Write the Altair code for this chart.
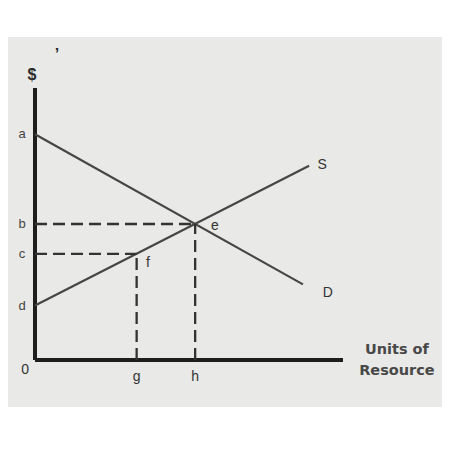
import altair as alt
import pandas as pd

# Curve end points (data units: quantity 0-100, price 0-100)
demand_x = [0, 87]
demand_y = [83, 27.8]
supply_x = [0, 89]
supply_y = [20, 71.4]

# Price levels and quantities
price_names = ["a", "b", "c", "d"]
price_vals = [83, 50, 39, 20]
qty_names = ["g", "h"]
qty_vals = [33, 52]

# Dashed guide segments
dash_x = [0, 0, 33, 52]
dash_x2 = [52, 33, 33, 52]
dash_y = [50, 39, 0, 0]
dash_y2 = [50, 39, 39, 50]

# Axis segments
axis_x = [0, 0]
axis_x2 = [0, 100]
axis_y = [0, 0]
axis_y2 = [100, 0]

# Annotation labels
ann_text = ["e", "f", "S", "D", "0"]
ann_x = [58.4, 36.7, 93.2, 95.1, -3.2]
ann_y = [49.3, 35.7, 71.7, 24.6, -3.7]

unit_text = ["Units of", "Resource"]
unit_x = [117.5, 117.5]
unit_y = [3.7, -4]

sym_text = ["$", "’"]
sym_x = [-1, 7.1]
sym_y = [104.8, 112]

W, H = 308, 272
xs = alt.Scale(domain=[0, 100], nice=False, zero=False)
ys = alt.Scale(domain=[0, 100], nice=False, zero=False)

ink = "#333333"
font = "Liberation Sans"

def X():
    return alt.X("x:Q", scale=xs, axis=None)

def Y():
    return alt.Y("y:Q", scale=ys, axis=None)

# photographed grey page behind the figure, and a transparent strip above it
bg_df = pd.DataFrame({
    "x": [-27 / W * 100, -27 / W * 100], "x2": [407 / W * 100, 407 / W * 100],
    "y": [(H + 51) / H * 100, (H + 80) / H * 100],
    "y2": [(H - 319) / H * 100, (H + 51) / H * 100],
    "o": [1, 0],
})
bg = alt.Chart(bg_df).mark_rect(color="#e9e9e7").encode(
    x=X(), x2="x2:Q", y=Y(), y2="y2:Q",
    opacity=alt.Opacity("o:Q", scale=None, legend=None),
)

curves = pd.DataFrame({
    "x": demand_x + supply_x,
    "y": demand_y + supply_y,
    "c": ["D", "D", "S", "S"],
})
lines = alt.Chart(curves).mark_line(color="#464646", strokeWidth=2.2).encode(
    x=X(), y=Y(), detail="c:N",
)

dashes = alt.Chart(pd.DataFrame({"x": dash_x, "x2": dash_x2, "y": dash_y, "y2": dash_y2})).mark_rule(
    color="#333333", strokeWidth=2.3, strokeDash=[12, 6]
).encode(x=X(), x2="x2:Q", y=Y(), y2="y2:Q")

axes = alt.Chart(pd.DataFrame({"x": axis_x, "x2": axis_x2, "y": axis_y, "y2": axis_y2})).mark_rule(
    color="#1e1e1e", strokeWidth=4
).encode(x=X(), x2="x2:Q", y=Y(), y2="y2:Q")

plab = alt.Chart(pd.DataFrame({"t": price_names, "y": price_vals, "x": [0, 0, 0, 0]})).mark_text(
    font=font, fontSize=13, color="#444444", align="center", baseline="middle", dx=-13
).encode(x=X(), y=Y(), text="t:N")

qlab = alt.Chart(pd.DataFrame({"t": qty_names, "x": qty_vals, "y": [0, 0]})).mark_text(
    font=font, fontSize=14, color=ink, align="center", baseline="middle", dy=17
).encode(x=X(), y=Y(), text="t:N")

ann = alt.Chart(pd.DataFrame({"t": ann_text, "x": ann_x, "y": ann_y})).mark_text(
    font=font, fontSize=14, color=ink, align="center", baseline="middle"
).encode(x=X(), y=Y(), text="t:N")

units = alt.Chart(pd.DataFrame({"t": unit_text, "x": unit_x, "y": unit_y})).mark_text(
    font="DejaVu Sans", fontSize=14.5, fontWeight="bold", color="#484848",
    align="center", baseline="middle"
).encode(x=X(), y=Y(), text="t:N")

syms = alt.Chart(pd.DataFrame({"t": sym_text, "x": sym_x, "y": sym_y})).mark_text(
    font=font, fontSize=16, fontWeight="bold", color="#2a2a2a",
    align="center", baseline="middle"
).encode(x=X(), y=Y(), text="t:N")

chart = alt.layer(bg, axes, lines, dashes, plab, qlab, ann, units, syms).properties(
    width=W,
    height=H,
    padding=0,
    background="white",
).configure_view(strokeWidth=0)

chart.save("out.html", embed_options={"renderer": "svg", "actions": False})
